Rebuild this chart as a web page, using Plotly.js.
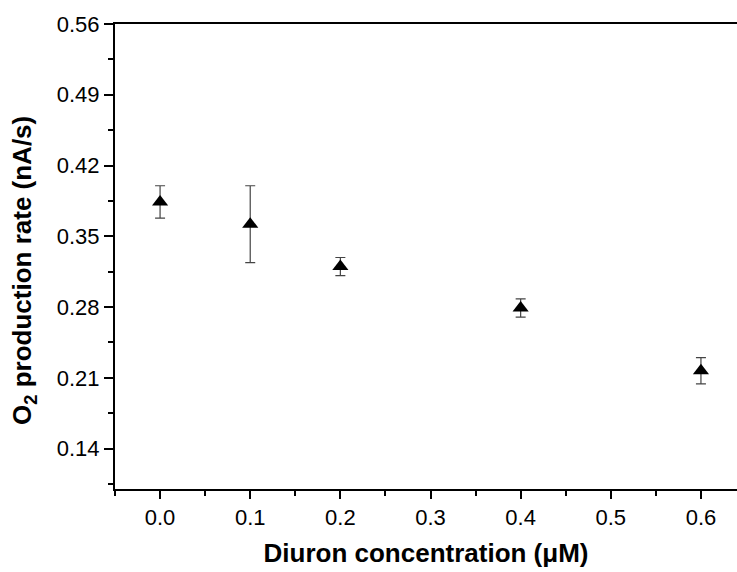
<!DOCTYPE html>
<html>
<head>
<meta charset="utf-8">
<script src="https://cdn.plot.ly/plotly-3.0.1.min.js"></script>
<style>html,body{margin:0;padding:0;background:#fff;}#chart{width:737px;height:572px;}</style>
</head>
<body>
<div id="chart"></div>
<script>
var concentration = [0.0, 0.1, 0.2, 0.4, 0.6];
var o2Rate = [0.384, 0.362, 0.320, 0.279, 0.217];
var o2Error = [0.016, 0.038, 0.009, 0.009, 0.013];

var trace = {
  x: concentration,
  y: o2Rate,
  type: 'scatter',
  mode: 'markers',
  marker: {symbol: 'triangle-up', size: 14, color: '#000'},
  error_y: {type: 'data', array: o2Error, visible: true, color: '#444', thickness: 1.2, width: 5},
  showlegend: false,
  cliponaxis: false
};

var fontFam = 'Arial, "Liberation Sans", sans-serif';
var layout = {
  width: 737, height: 572,
  margin: {l: 115, r: 0, t: 24, b: 83},
  paper_bgcolor: '#fff', plot_bgcolor: '#fff',
  font: {family: fontFam, color: '#000', size: 22},
  xaxis: {
    range: [-0.05, 0.64],
    tick0: 0, dtick: 0.1, tickformat: '.1f',
    ticks: 'outside', ticklen: 8, tickwidth: 2, tickcolor: '#000',
    minor: {dtick: 0.05, ticklen: 5, tickwidth: 2, tickcolor: '#000', ticks: 'outside'},
    showline: true, linewidth: 2, linecolor: '#000', mirror: true,
    showgrid: false, zeroline: false,
    tickfont: {size: 22, color: '#000'},
    title: {text: '<b>Diuron concentration (μM)</b>', font: {size: 26, color: '#000'}, standoff: 14}
  },
  yaxis: {
    range: [0.1, 0.56],
    tick0: 0, dtick: 0.07, tickformat: '.2f',
    ticks: 'outside', ticklen: 9, tickwidth: 2, tickcolor: '#000',
    minor: {dtick: 0.035, ticklen: 5, tickwidth: 2, tickcolor: '#000', ticks: 'outside'},
    showline: true, linewidth: 2, linecolor: '#000',
    showgrid: false, zeroline: false,
    tickfont: {size: 22, color: '#000'}
  },
  annotations: [{
    text: '<b>O<sub>2</sub> production rate (nA/s)</b>',
    textangle: -90,
    xref: 'paper', yref: 'paper',
    x: 0, y: 0.469, xanchor: 'center', yanchor: 'middle',
    xshift: -91, showarrow: false,
    font: {size: 26, color: '#000'}
  }]
};

Plotly.newPlot('chart', [trace], layout, {displayModeBar: false, staticPlot: true});
</script>
</body>
</html>
